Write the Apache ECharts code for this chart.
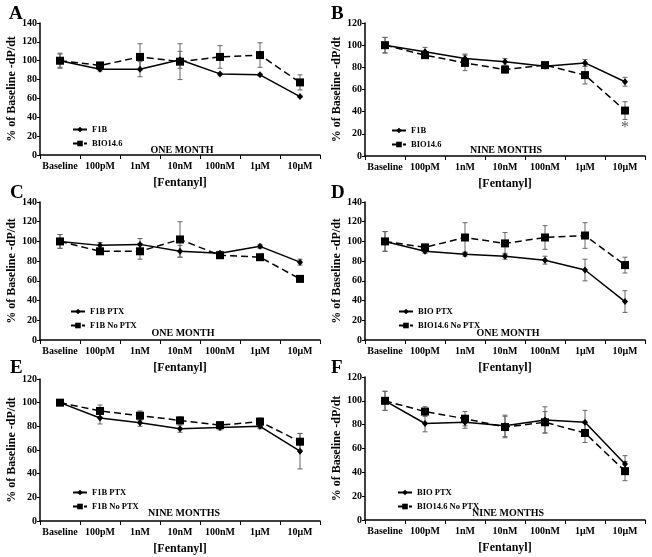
<!DOCTYPE html>
<html>
<head>
<meta charset="utf-8">
<script src="https://cdn.jsdelivr.net/npm/echarts@6/dist/echarts.min.js"></script>
<style>html,body{margin:0;padding:0;background:#fff}#c{width:652px;height:557px}</style>
</head>
<body>
<div id="c"></div>
<script>
const categories = ['Baseline', '100pM', '1nM', '10nM', '100nM', '1\u03bcM', '10\u03bcM'];

// Panel A - ONE MONTH
const A_F1B = [100, 91, 91, 101, 86, 85, 62];
const A_F1B_err = [7, 2, 8, 9, 1, 1, 1];
const A_BIO = [100, 95, 104, 99, 104, 106, 77];
const A_BIO_err = [8, 2, 14, 19, 12, 13, 8];

// Panel B - NINE MONTHS
const B_F1B = [100, 94, 88, 85, 81, 84, 67];
const B_F1B_err = [7, 4, 4, 3, 2, 3, 4];
const B_BIO = [100, 91, 84, 78, 82, 73, 41];
const B_BIO_err = [7, 3, 7, 3, 2, 8, 8];
const B_star = [['10\u03bcM', 25]];

// Panel C - ONE MONTH
const C_PTX = [100, 96, 97, 90, 88, 95, 79];
const C_PTX_err = [7, 3, 6, 6, 2, 2, 3];
const C_NoPTX = [100, 90, 90, 102, 86, 84, 62];
const C_NoPTX_err = [7, 2, 8, 18, 2, 1, 1];

// Panel D - ONE MONTH
const D_PTX = [100, 90, 87, 85, 81, 71, 39];
const D_PTX_err = [10, 2, 2, 3, 4, 11, 11];
const D_NoPTX = [100, 94, 104, 98, 104, 106, 76];
const D_NoPTX_err = [10, 2, 15, 11, 12, 13, 8];

// Panel E - NINE MONTHS
const E_PTX = [100, 87, 83, 78, 79, 80, 59];
const E_PTX_err = [2, 5, 3, 3, 2, 2, 15];
const E_NoPTX = [100, 93, 89, 85, 81, 84, 67];
const E_NoPTX_err = [2, 5, 4, 3, 2, 3, 7];

// Panel F - NINE MONTHS
const F_PTX = [100, 81, 82, 79, 84, 82, 47];
const F_PTX_err = [8, 7, 5, 9, 11, 10, 7];
const F_NoPTX = [100, 91, 85, 78, 82, 73, 41];
const F_NoPTX_err = [8, 4, 6, 9, 9, 8, 8];

const FONT = 'Liberation Serif';

const panels = [
  {letter:'A', sub:'ONE MONTH', max:140, grid:{left:40, top:23, width:280, height:132},
   legend:{left:67, top:120}, s1:['F1B', A_F1B, A_F1B_err], s2:['BIO14.6', A_BIO, A_BIO_err],
   letterPos:[9,5], subPos:[182,150]},
  {letter:'B', sub:'NINE MONTHS', max:120, grid:{left:365, top:23, width:280, height:133},
   legend:{left:386, top:121}, s1:['F1B', B_F1B, B_F1B_err], s2:['BIO14.6', B_BIO, B_BIO_err],
   letterPos:[331,5], subPos:[506,150]},
  {letter:'C', sub:'ONE MONTH', max:140, grid:{left:40, top:202, width:280, height:138},
   legend:{left:65, top:302}, s1:['F1B PTX', C_PTX, C_PTX_err], s2:['F1B No PTX', C_NoPTX, C_NoPTX_err],
   letterPos:[10,184], subPos:[183,333]},
  {letter:'D', sub:'ONE MONTH', max:140, grid:{left:365, top:202, width:280, height:138},
   legend:{left:393, top:302}, s1:['BIO PTX', D_PTX, D_PTX_err], s2:['BIO14.6 No PTX', D_NoPTX, D_NoPTX_err],
   letterPos:[331,184], subPos:[508,333]},
  {letter:'E', sub:'NINE MONTHS', max:120, grid:{left:40, top:379, width:280, height:142},
   legend:{left:67, top:483}, s1:['F1B PTX', E_PTX, E_PTX_err], s2:['F1B No PTX', E_NoPTX, E_NoPTX_err],
   letterPos:[10,359], subPos:[184,513]},
  {letter:'F', sub:'NINE MONTHS', max:120, grid:{left:365, top:377, width:280, height:143},
   legend:{left:392, top:483}, s1:['BIO PTX', F_PTX, F_PTX_err], s2:['BIO14.6 No PTX', F_NoPTX, F_NoPTX_err],
   letterPos:[331,359], subPos:[508,513]}
];

function errRender(params, api) {
  const x = api.value(0);
  const lo = api.coord([x, api.value(1)]);
  const hi = api.coord([x, api.value(2)]);
  const w = 2.5;
  const st = {stroke:'#666', lineWidth:1};
  return {type:'group', children:[
    {type:'line', shape:{x1:lo[0], y1:lo[1], x2:hi[0], y2:hi[1]}, style:st},
    {type:'line', shape:{x1:hi[0]-w, y1:hi[1], x2:hi[0]+w, y2:hi[1]}, style:st},
    {type:'line', shape:{x1:lo[0]-w, y1:lo[1], x2:lo[0]+w, y2:lo[1]}, style:st}
  ]};
}

const grids = [], xAxes = [], yAxes = [], series = [], legends = [], graphics = [];
panels.forEach((p, i) => {
  grids.push(p.grid);
  xAxes.push({
    type:'category', gridIndex:i, data:categories, boundaryGap:true,
    name:'[Fentanyl]', nameLocation:'middle', nameGap:22,
    nameTextStyle:{fontFamily:FONT, fontWeight:'bold', fontSize:12, color:'#000'},
    axisLine:{lineStyle:{color:'#000', width:1.5}},
    axisTick:{show:true, length:4, inside:false, alignWithLabel:false, interval:0, lineStyle:{color:'#000'}},
    axisLabel:{interval:0, margin:6, fontFamily:FONT, fontWeight:'bold', fontSize:10, color:'#000'},
    splitLine:{show:false}
  });
  yAxes.push({
    type:'value', gridIndex:i, min:0, max:p.max, interval:20,
    name:'% of Baseline -dP/dt', nameLocation:'middle', nameGap:22,
    nameTextStyle:{fontFamily:FONT, fontWeight:'bold', fontSize:12, color:'#000'},
    axisLine:{show:true, lineStyle:{color:'#000', width:1.5}},
    axisTick:{show:true, length:3, lineStyle:{color:'#000'}},
    axisLabel:{margin:3, fontFamily:FONT, fontWeight:'bold', fontSize:10, color:'#000'},
    splitLine:{show:false}
  });
  const mk = (s, dashed) => {
    const name = s[0] + '#' + i;
    series.push({
      type:'custom', xAxisIndex:i, yAxisIndex:i, renderItem:errRender, z:1, silent:true,
      data:s[1].map((v, k) => [k, v - s[2][k], v + s[2][k]])
    });
    series.push({
      type:'line', name:name, xAxisIndex:i, yAxisIndex:i, data:s[1], z:3,
      symbol: dashed ? 'rect' : 'diamond', symbolSize: dashed ? 8 : [6,7],
      itemStyle:{color:'#000'},
      lineStyle:{color:'#000', width:1.5, type: dashed ? [7,4] : 'solid'},
      animation:false
    });
    return name;
  };
  const n1 = mk(p.s1, false);
  const n2 = mk(p.s2, true);
  legends.push({
    left:p.legend.left, top:p.legend.top, orient:'vertical', itemWidth:14, itemHeight:7, itemGap:5,
    data:[{name:n1}, {name:n2}],
    formatter: n => n.split('#')[0],
    textStyle:{fontFamily:FONT, fontWeight:'bold', fontSize:8.5, color:'#000', padding:[0,0,0,0]},
    selectedMode:false
  });
  graphics.push({type:'text', left:p.letterPos[0], top:p.letterPos[1],
    style:{text:p.letter, font:'bold 19px "Liberation Serif"', fill:'#000'}});
  graphics.push({type:'text', x:p.subPos[0], y:p.subPos[1],
    style:{text:p.sub, font:'bold 10px "Liberation Serif"', fill:'#000', align:'center', verticalAlign:'middle'}});
});

series.push({
  type:'scatter', xAxisIndex:1, yAxisIndex:1, data:B_star, symbolSize:0, z:4,
  label:{show:true, position:'inside', formatter:'*', fontFamily:FONT, fontSize:16, color:'#333'}
});

const chart = echarts.init(document.getElementById('c'), null, {renderer:'canvas'});
chart.setOption({
  animation:false,
  backgroundColor:'#fff',
  grid:grids, xAxis:xAxes, yAxis:yAxes, series:series, legend:legends, graphic:graphics
});
</script>
</body>
</html>
